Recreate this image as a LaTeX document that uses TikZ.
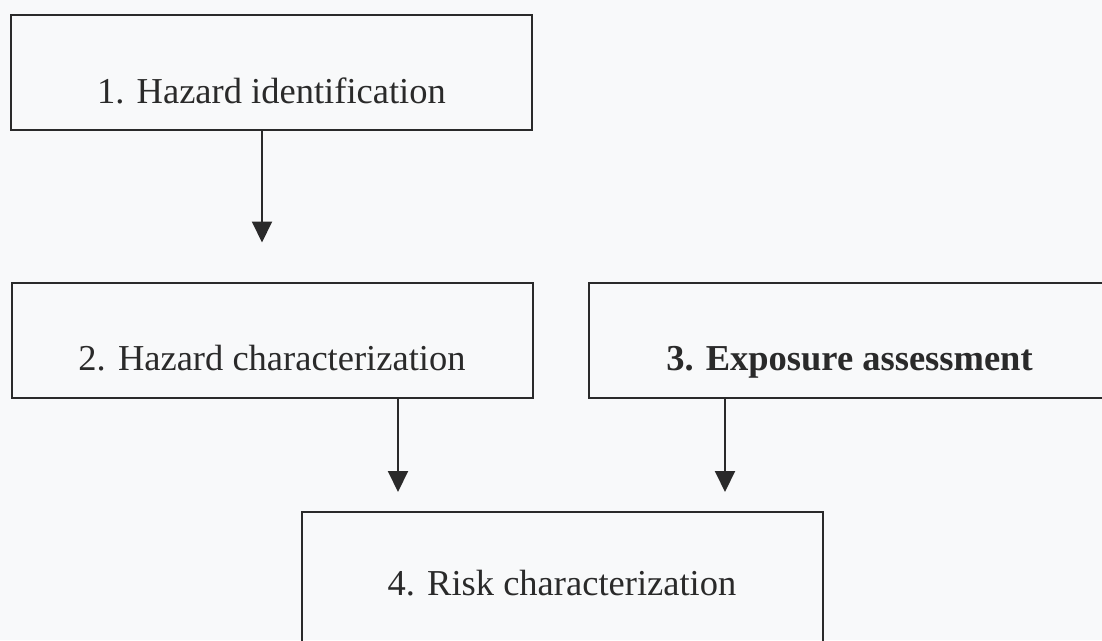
\documentclass[tikz,border=0pt]{standalone}
\usepackage{fontspec}
\setmainfont{Liberation Serif}
\usetikzlibrary{arrows.meta,calc}
\definecolor{ink}{HTML}{2A2A2A}
\definecolor{paper}{HTML}{F8F9FA}
\begin{document}
\begin{tikzpicture}[x=1pt,y=-1pt,
  box/.style={draw=ink, line width=2pt, minimum width=521pt, minimum height=115pt,
    inner sep=0pt, text height=61pt, text depth=0pt,
    font=\fontsize{36.5}{40}\selectfont, text=ink},
  arr/.style={draw=ink, line width=2pt, -{Triangle[width=20pt,length=21pt]}}]
\fill[paper] (0,0) rectangle (1102,640);
\useasboundingbox (0,0) rectangle (1102,640);
\begin{scope}
\clip (0,0) rectangle (1102,640);
\node[box] (b1) at (271.5,72.5) {1. Hazard identification};
\node[box] (b2) at (272,340) {2. Hazard characterization};
\node[box] (b3) at (849.5,340) {\textbf{3. Exposure assessment}};
\node[box, minimum height=140pt, text height=26pt] (b4) at (562,582) {4. Risk characterization};
\coordinate (x1) at (262,0);
\coordinate (x2) at (398,0);
\coordinate (x3) at (725,0);
\draw[arr, shorten >=39pt] (b1.south -| x1) -- (b2.north -| x1);
\draw[arr, shorten >=19pt] (b2.south -| x2) -- (b4.north -| x2);
\draw[arr, shorten >=19pt] (b3.south -| x3) -- (b4.north -| x3);
\end{scope}
\end{tikzpicture}
\end{document}
